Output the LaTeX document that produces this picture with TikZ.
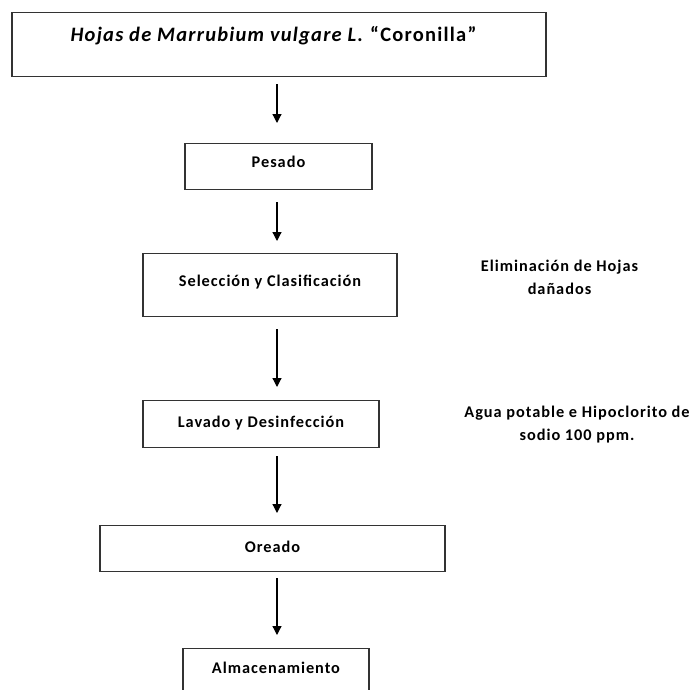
\documentclass[tikz,border=0pt]{standalone}
\usepackage{fontspec}
\setmainfont{Carlito}[LetterSpace=6]
\usetikzlibrary{arrows.meta}
\tikzset{
    paso/.style = {
        draw = black!80,
        line width = 1.3pt,
        inner xsep = 0pt,
        inner ysep = 0pt,
        anchor = north,
        font = \fontsize{16.3}{23}\selectfont\bfseries,
        },
    nota/.style = {
        align = center,
        font = \fontsize{16.3}{23}\selectfont\bfseries,
        },
    flecha/.style = {
        -{Triangle[length=9pt,width=9pt]},
        line width = 1.2pt,
        },
}

\begin{document}
\begin{tikzpicture}[x=1pt, y=-1pt]
            \clip (0,0) rectangle (699,689);
            \coordinate (eje) at (277,0);

            \node[paso, minimum width=534pt, text height=29pt, text depth=35pt,
                  font=\fontsize{20.5}{24}\selectfont\bfseries] (hojas) at (279,12)
                  {\textit{Hojas de Marrubium vulgare L.} “Coronilla”\hspace*{11pt}};
            \node[paso, minimum width=187pt, text height=24pt, text depth=22pt] (pesado) at (278.5,143) {Pesado};
            \node[paso, minimum width=254pt, text height=33pt, text depth=30pt] (seleccion) at (270,253) {Selección y Clasificación};
            \node[paso, minimum width=236pt, text height=27pt, text depth=20pt] (lavado) at (261,400) {Lavado y Desinfección};
            \node[paso, minimum width=345pt, text height=27pt, text depth=19pt] (oreado) at (272.5,525) {Oreado};
            \node[paso, minimum width=186pt, text height=25pt, text depth=45pt] (almacen) at (276,648) {Almacenamiento};

            % notas al lado
            \node[nota] (eliminar) at (559.5,277.5) {Eliminación de Hojas\\dañados};
            \node[nota] (agua) at (577,425) {Agua potable e Hipoclorito de\\sodio 100 ppm.};

            \draw[flecha, shorten <=7pt, shorten >=20pt] (hojas.south -| eje) -- (pesado.north -| eje);
            \draw[flecha, shorten <=12pt, shorten >=12pt] (pesado.south -| eje) -- (seleccion.north -| eje);
            \draw[flecha, shorten <=12pt, shorten >=13pt] (seleccion.south -| eje) -- (lavado.north -| eje);
            \draw[flecha, shorten <=8pt, shorten >=12pt] (lavado.south -| eje) -- (oreado.north -| eje);
            \draw[flecha, shorten <=6pt, shorten >=13pt] (oreado.south -| eje) -- (almacen.north -| eje);
        \end{tikzpicture}
\end{document}
